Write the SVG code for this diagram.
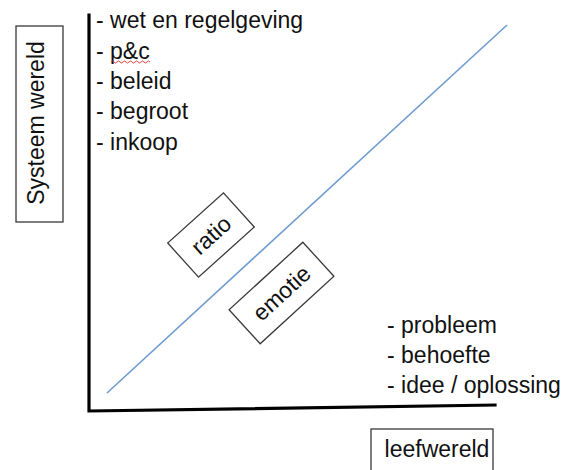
<svg xmlns="http://www.w3.org/2000/svg" width="562" height="470" viewBox="0 0 562 470">
  <style>
    .t { font-family: "Liberation Sans", Arial, sans-serif; font-size: 23px; fill: #111; }
    .box { fill: #fff; stroke: #3a3a3a; stroke-width: 1.3; }
    .axis { fill: none; stroke: #000; stroke-width: 3.2; stroke-linecap: square; }
    .diag { fill: none; stroke: #6f9bd1; stroke-width: 1.6; }
  </style>
  <rect width="562" height="470" fill="#fff"/>

  <g id="connectors">
    <line class="diag" x1="107" y1="393" x2="507" y2="25"/>
    <polyline class="axis" points="89,15 89,411 495,405"/>
  </g>

  <g id="systeem-wereld">
    <rect class="box" x="16" y="26" width="47" height="196"/>
    <text class="t" x="0" y="0" text-anchor="middle" font-size="22.5" transform="translate(43.5,123) rotate(-90)">Systeem wereld</text>
  </g>

  <g id="systeem-lijst">
    <text class="t" x="96" y="28">- wet en regelgeving</text>
    <text class="t" x="96" y="58.5">- p&amp;c</text>
    <text class="t" x="96" y="89">- beleid</text>
    <text class="t" x="96" y="119">- begroot</text>
    <text class="t" x="96" y="149.5">- inkoop</text>
    <path d="M111,62 q1.5,-2 3,0 t3,0 t3,0 t3,0 t3,0 t3,0 t3,0 t3,0 t3,0 t3,0 t3,0 t3,0 t3,0" fill="none" stroke="#e03030" stroke-width="0.9"/>
  </g>

  <g id="ratio" transform="translate(211,235) rotate(-42)">
    <rect class="box" x="-37.5" y="-23" width="75" height="46"/>
    <text class="t" x="0" y="8" text-anchor="middle">ratio</text>
  </g>

  <g id="emotie" transform="translate(281.5,293) rotate(-42.5)">
    <rect class="box" x="-50" y="-23" width="100" height="46"/>
    <text class="t" x="0" y="8" text-anchor="middle">emotie</text>
  </g>

  <g id="leef-lijst">
    <text class="t" x="387" y="333">- probleem</text>
    <text class="t" x="387" y="363">- behoefte</text>
    <text class="t" x="387" y="393">- idee / oplossing</text>
  </g>

  <g id="leefwereld">
    <rect class="box" x="371" y="429" width="122" height="48"/>
    <text class="t" x="437" y="456.5" text-anchor="middle">leefwereld</text>
  </g>
</svg>
